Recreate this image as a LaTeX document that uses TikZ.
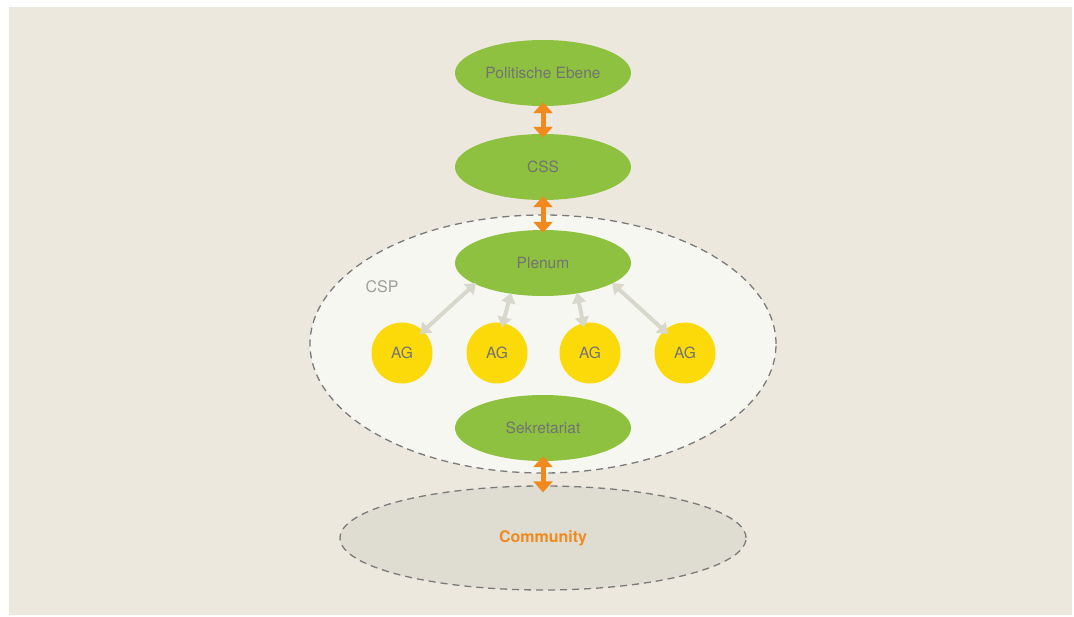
\documentclass[tikz,border=0pt]{standalone}
\usepackage{fontspec}
\setmainfont{TeX Gyre Heros}
\usetikzlibrary{shapes.geometric,arrows.meta}
\definecolor{bgbeige}{HTML}{ECE8DE}
\definecolor{cspfill}{HTML}{F7F7F2}
\definecolor{comfill}{HTML}{DFDDD2}
\definecolor{leafgreen}{HTML}{8DC13F}
\definecolor{agyellow}{HTML}{FCDA0A}
\definecolor{txtgray}{HTML}{737373}
\definecolor{lightgray}{HTML}{9E9E9E}
\definecolor{dashgray}{HTML}{7A7A7A}
\definecolor{arrorange}{HTML}{F08A1E}
\definecolor{arrgray}{HTML}{D8D7CB}
\tikzset{
  x=1pt, y=-1pt,
  greenell/.style={ellipse, fill=leafgreen, minimum width=176pt, minimum height=66pt, inner sep=0pt,
    text=txtgray, font=\fontsize{15.5}{18}\selectfont},
  agcircle/.style={circle, fill=agyellow, minimum size=61pt, inner sep=0pt,
    text=txtgray, font=\fontsize{15.5}{18}\selectfont},
  dashedell/.style={ellipse, draw=dashgray, line width=1.3pt, dash pattern=on 7pt off 5pt, inner sep=0pt},
  orangearrow/.style={draw=arrorange, line width=5pt,
    {Triangle[width=19pt,length=11pt]}-{Triangle[width=19pt,length=11pt]}},
  grayarrow/.style={draw=arrgray, line width=4pt,
    {Triangle[width=14pt,length=10pt]}-{Triangle[width=14pt,length=10pt]}},
}
\begin{document}
\begin{tikzpicture}
\useasboundingbox (0,0) rectangle (1074,617);
\fill[white] (0,0) rectangle (1074,617);
\fill[bgbeige] (9,7) rectangle (1072,615);

% containers
\node[dashedell, fill=cspfill, minimum width=466pt, minimum height=258pt] (csp) at (543,344) {};
\node[dashedell, fill=comfill, minimum width=406pt, minimum height=104pt,
  text=arrorange, font=\bfseries\fontsize{16}{19}\selectfont] (community) at (543,538) {Community};
\node[text=lightgray, font=\fontsize{16}{19}\selectfont] (csplabel) at (382,287) {CSP};

% green nodes
\node[greenell] (pol) at (543,73) {Politische Ebene};
\node[greenell] (css) at (543,167) {CSS};
\node[greenell] (plenum) at (543,263) {Plenum};
\node[greenell] (sek) at (543,428) {Sekretariat};

% AG circles
\node[agcircle] (ag1) at (402,353) {AG};
\node[agcircle] (ag2) at (497,353) {AG};
\node[agcircle] (ag3) at (590,353) {AG};
\node[agcircle] (ag4) at (685,353) {AG};

% coordinates for gray arrow ends
\coordinate (p1) at (476,283);
\coordinate (p2) at (511,293);
\coordinate (p3) at (577,293);
\coordinate (p4) at (612,283);
\coordinate (a1) at (420,334);
\coordinate (a2) at (502,327);
\coordinate (a3) at (584,327);
\coordinate (a4) at (668,334);

\draw[grayarrow] (p1) -- (a1);
\draw[grayarrow] (p2) -- (a2);
\draw[grayarrow] (p3) -- (a3);
\draw[grayarrow] (p4) -- (a4);

% orange arrows
\draw[orangearrow] ([yshift=4pt]pol.south) -- ([yshift=-4pt]css.north);
\draw[orangearrow] ([yshift=4pt]css.south) -- ([yshift=-3pt]plenum.north);
\draw[orangearrow] ([yshift=5pt]sek.south) -- ([yshift=-7pt]community.north);
\end{tikzpicture}
\end{document}
